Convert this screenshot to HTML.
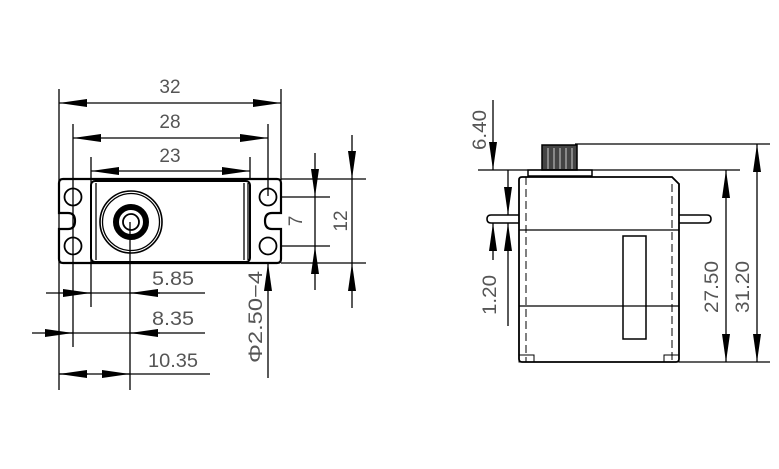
<!DOCTYPE html>
<html><head><meta charset="utf-8"><style>
html,body{margin:0;padding:0;background:#fff;}
svg{display:block;}
text{font-family:"Liberation Sans",sans-serif;fill:#555;font-size:19px;}
</style></head><body>
<svg width="779" height="469" viewBox="0 0 779 469" xmlns="http://www.w3.org/2000/svg">
<defs>
<marker id="a" viewBox="0 0 10 10" refX="10" refY="5" markerWidth="28" markerHeight="8" markerUnits="userSpaceOnUse" orient="auto-start-reverse" preserveAspectRatio="none"><path d="M0,0 L10,5 L0,10 Z" fill="#000"/></marker>
</defs>
<g stroke="#000" stroke-width="1.3" fill="none">
<!-- LEFT VIEW -->
<!-- ext lines -->
<line x1="59" y1="89" x2="59" y2="390"/>
<line x1="281" y1="89" x2="281" y2="180"/>
<line x1="73" y1="124" x2="73" y2="347"/>
<line x1="268" y1="124" x2="268" y2="196"/>
<line x1="91" y1="157" x2="91" y2="307"/>
<line x1="250" y1="157" x2="250" y2="180"/>
<line x1="130" y1="222" x2="130" y2="390"/>
<!-- dims -->
<line x1="59" y1="103" x2="281" y2="103" marker-start="url(#a)" marker-end="url(#a)"/>
<line x1="73" y1="138" x2="268" y2="138" marker-start="url(#a)" marker-end="url(#a)"/>
<line x1="91" y1="171" x2="250" y2="171" marker-start="url(#a)" marker-end="url(#a)"/>
<!-- body outline -->
<path d="M63,179 H277 Q281,179 281,183 V213 H272 Q265,213 265,221 Q265,229 272,229 H281 V259 Q281,263 277,263 H63 Q59,263 59,259 V229 H68 Q75,229 75,221 Q75,213 68,213 H59 V183 Q59,179 63,179 Z" stroke-width="2.2"/>
<rect x="91" y="181" width="159" height="81" rx="4" stroke-width="2"/>
<line x1="96" y1="183" x2="96" y2="260"/>
<line x1="244" y1="183" x2="244" y2="260"/>
<line x1="248" y1="183" x2="248" y2="260"/>
<circle cx="73" cy="197" r="8.5" stroke-width="1.8"/>
<circle cx="73" cy="246" r="8.5" stroke-width="1.8"/>
<circle cx="268" cy="197" r="8.5" stroke-width="1.8"/>
<circle cx="268" cy="246" r="8.5" stroke-width="1.8"/>
<circle cx="131" cy="222" r="31" stroke-width="1.6"/>
<circle cx="131" cy="222" r="28.5" stroke-width="1.3"/>
<circle cx="131" cy="222" r="15" stroke-width="6"/>
<circle cx="131" cy="222" r="8" stroke-width="1.8"/>
<!-- right dims 7 / 12 -->
<line x1="281" y1="197" x2="330" y2="197"/>
<line x1="281" y1="246" x2="330" y2="246"/>
<line x1="281" y1="179" x2="366" y2="179"/>
<line x1="281" y1="263" x2="366" y2="263"/>
<line x1="315" y1="153" x2="315" y2="197" marker-end="url(#a)"/>
<line x1="315" y1="290" x2="315" y2="246" marker-end="url(#a)"/>
<line x1="315" y1="197" x2="315" y2="246"/>
<line x1="352" y1="135" x2="352" y2="179" marker-end="url(#a)"/>
<line x1="352" y1="308" x2="352" y2="263" marker-end="url(#a)"/>
<line x1="352" y1="179" x2="352" y2="263"/>
<!-- phi -->
<line x1="268" y1="378" x2="268" y2="263" marker-end="url(#a)"/>
<!-- bottom dims -->
<line x1="46" y1="293" x2="205" y2="293"/>
<line x1="63" y1="293" x2="91" y2="293" marker-end="url(#a)"/>
<line x1="160" y1="293" x2="130" y2="293" marker-end="url(#a)"/>
<line x1="32" y1="333" x2="205" y2="333"/>
<line x1="45" y1="333" x2="73" y2="333" marker-end="url(#a)"/>
<line x1="160" y1="333" x2="130" y2="333" marker-end="url(#a)"/>
<line x1="59" y1="374" x2="210" y2="374"/>
<line x1="88" y1="374" x2="59" y2="374" marker-end="url(#a)"/>
<line x1="102" y1="374" x2="130" y2="374" marker-end="url(#a)"/>

<!-- RIGHT VIEW -->
<line x1="575" y1="144" x2="770" y2="144"/>
<line x1="478" y1="170" x2="740" y2="170"/>
<line x1="679" y1="362" x2="770" y2="362"/>
<rect x="542" y="145" width="35" height="25" fill="#444" stroke-width="1.5"/>
<g stroke="#ccc" stroke-width="1"><line x1="548" y1="148" x2="548" y2="169"/><line x1="554" y1="148" x2="554" y2="169"/><line x1="560" y1="148" x2="560" y2="169"/><line x1="566" y1="148" x2="566" y2="169"/><line x1="572" y1="148" x2="572" y2="169"/></g>
<rect x="528" y="170" width="64" height="6" stroke-width="1.5"/>
<path d="M522,177 H672 L679,184 V359 Q679,362 676,362 H522 Q519,362 519,359 V180 Q519,177 522,177 Z" stroke-width="1.8"/>
<line x1="519" y1="230" x2="679" y2="230"/>
<line x1="519" y1="306" x2="679" y2="306"/>
<line x1="526" y1="177" x2="526" y2="362" stroke-dasharray="8,4" stroke-width="1"/>
<line x1="672" y1="184" x2="672" y2="362" stroke-dasharray="8,4" stroke-width="1"/>
<rect x="623" y="236" width="23" height="103" stroke-width="1.5"/>
<rect x="519" y="355" width="15" height="7" stroke-width="1"/>
<rect x="664" y="355" width="15" height="7" stroke-width="1"/>
<path d="M519,215 H491 Q487,215 487,219 Q487,223 491,223 H519" stroke-width="1.6"/>
<path d="M679,215 H707 Q711,215 711,219 Q711,223 707,223 H679" stroke-width="1.6"/>
<!-- 6.40 / 1.20 -->
<line x1="493" y1="100" x2="493" y2="170" marker-end="url(#a)"/>
<line x1="493" y1="260" x2="493" y2="223" marker-end="url(#a)"/>
<line x1="508" y1="170" x2="508" y2="215" marker-end="url(#a)"/>
<line x1="508" y1="326" x2="508" y2="223" marker-end="url(#a)"/>
<!-- 27.50 / 31.20 -->
<line x1="726" y1="266" x2="726" y2="170" marker-end="url(#a)"/>
<line x1="726" y1="266" x2="726" y2="362" marker-end="url(#a)"/>
<line x1="757" y1="253" x2="757" y2="144" marker-end="url(#a)"/>
<line x1="757" y1="253" x2="757" y2="362" marker-end="url(#a)"/>
</g>
<g>
<text x="170" y="93" text-anchor="middle">32</text>
<text x="170" y="128" text-anchor="middle">28</text>
<text x="170" y="162" text-anchor="middle">23</text>
<text x="173" y="285" text-anchor="middle" textLength="42" lengthAdjust="spacingAndGlyphs">5.85</text>
<text x="173" y="325" text-anchor="middle" textLength="42" lengthAdjust="spacingAndGlyphs">8.35</text>
<text x="173" y="367" text-anchor="middle" textLength="50" lengthAdjust="spacingAndGlyphs">10.35</text>
<text transform="translate(302,221) rotate(-90)" text-anchor="middle">7</text>
<text transform="translate(347,221) rotate(-90)" text-anchor="middle">12</text>
<text transform="translate(262,317) rotate(-90)" text-anchor="middle" textLength="92" lengthAdjust="spacingAndGlyphs">Φ2.50−4</text>
<text transform="translate(486,130) rotate(-90)" text-anchor="middle" textLength="40" lengthAdjust="spacingAndGlyphs">6.40</text>
<text transform="translate(496,295) rotate(-90)" text-anchor="middle" textLength="40" lengthAdjust="spacingAndGlyphs">1.20</text>
<text transform="translate(718,287) rotate(-90)" text-anchor="middle" textLength="52" lengthAdjust="spacingAndGlyphs">27.50</text>
<text transform="translate(749,287) rotate(-90)" text-anchor="middle" textLength="52" lengthAdjust="spacingAndGlyphs">31.20</text>
</g>
</svg>
</body></html>
